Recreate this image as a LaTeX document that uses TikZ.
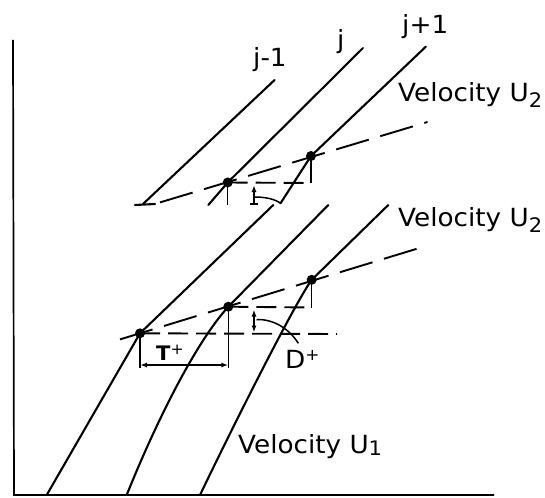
\documentclass[tikz,border=0pt]{standalone}
\usepackage{fontspec}
\setmainfont{DejaVu Sans}
\usetikzlibrary{arrows.meta}
\begin{document}
\begin{tikzpicture}[x=1pt,y=-1pt,
  ray/.style={line width=2.1pt, line cap=round},
  longdash/.style={line width=1.9pt, dash pattern=on 34pt off 12pt},
  shortdash/.style={line width=1.9pt, dash pattern=on 20pt off 8pt},
  axis/.style={line width=1.7pt},
  thinline/.style={line width=1.5pt},
  dot/.style={circle, fill, inner sep=0pt, minimum size=10pt},
  lbl/.style={font=\fontsize{25}{25}\selectfont, inner sep=0pt, anchor=base west, xscale=1.05},
  dimarrow/.style={line width=1.4pt, {Latex[length=7pt,width=5pt]}-{Latex[length=7pt,width=5pt]}},
  uparrow/.style={line width=1.4pt, -{Latex[length=7pt,width=5pt]}}
]
\useasboundingbox (0,0) rectangle (545,497);

% axes
\coordinate (ytop) at (13,40);
\coordinate (orig) at (14,495);
\coordinate (xend) at (494,495);
\draw[axis] (ytop) -- (orig) -- (xend);

% ---------- upper set ----------
\node[dot] (uj) at (227.7,182.5) {};
\node[dot] (uk) at (311,156) {};
\coordinate (uAtop) at (274.6,80);
\coordinate (uAbot) at (143,204);
\coordinate (uFl) at (135,205);
\coordinate (uFr) at (155,204);
\coordinate (uBtop) at (363,48);
\coordinate (uBbot) at (208.3,205);
\coordinate (uCtop) at (425.8,46.7);
\coordinate (uCbot) at (280.5,203.3);
\coordinate (uDs) at (160,202.4);
\coordinate (uDe) at (427.5,122);
\coordinate (uCorner) at (311,183);
\coordinate (uTick) at (227.7,205);
\coordinate (uArB) at (254,204);
\coordinate (uArT) at (254,185);
\coordinate (uArM) at (255,197);

\draw[ray] (uAbot) -- (uAtop);
\draw[ray] (uFl) -- (uFr);
\draw[ray] (uBbot) -- (uj.center) -- (uBtop);
\draw[ray] (uCbot) -- (uk.center) -- (uCtop);
\draw[longdash] (uDs) -- (uDe);
\draw[shortdash] (uj.center) -- (uCorner);
\draw[thinline] (uCorner) -- (uk.center);
\draw[thinline] (uj.center) -- (uTick);
\draw[uparrow] (uArB) -- (uArT);
\draw[thinline] (250,204) -- (258,204);
\draw[thinline] (uArM) .. controls (265,197) and (275,199) .. (uCbot);

% ---------- lower set ----------
\node[dot] (la) at (140,333.3) {};
\node[dot] (lb) at (228.3,306.7) {};
\node[dot] (lc) at (311.7,279.8) {};
\coordinate (lAtop) at (273.3,205);
\coordinate (lAbot) at (46.7,495);
\coordinate (lBtop) at (328.3,205);
\coordinate (lBbot) at (126.7,495);
\coordinate (lCtop) at (388.3,205);
\coordinate (lCbot) at (200,495);
\coordinate (lDs) at (120,339.4);
\coordinate (lDe) at (427.5,245.5);
\coordinate (lHe) at (337,334);
\coordinate (lCorner) at (311.7,307.5);
\coordinate (laDown) at (140,368);
\coordinate (lbDown) at (228.3,368);
\coordinate (dimL) at (140,365);
\coordinate (dimR) at (228.3,365);
\coordinate (lArT) at (254,309.5);
\coordinate (lArB) at (254,332.5);
\coordinate (lArcS) at (256.5,319.5);
\coordinate (lArcE) at (298.3,343.3);

\draw[ray] (lAbot) -- (la.center) -- (lAtop);
\draw[ray] (lBbot) .. controls (150.7,435) and (192,346.7) .. (lb.center) -- (lBtop);
\draw[ray] (lCbot) .. controls (233.6,425) and (294.2,304.3) .. (lc.center) -- (lCtop);
\draw[longdash] (lDs) -- (lDe);
\draw[shortdash] (la.center) -- (lHe);
\draw[shortdash] (lb.center) -- (lCorner);
\draw[thinline] (lCorner) -- (lc.center);
\draw[thinline] (la.center) -- (laDown);
\draw[thinline] (lb.center) -- (lbDown);
\draw[dimarrow] (dimL) -- (dimR);
\draw[dimarrow] (lArT) -- (lArB);
\draw[thinline] (lArcS) .. controls (275,319) and (290,330) .. (lArcE);

% ---------- labels ----------
\node[lbl] (tj1) at (253,66.5) {j-1};
\node[lbl] (tj) at (337,48.3) {j};
\node[lbl] (tj2) at (402,33.3) {j+1};
\node[lbl] (tv1) at (398,101.7) {Velocity U\raisebox{-6pt}{\fontsize{20}{20}\selectfont 2}};
\node[lbl] (tv2) at (398,226) {Velocity U\raisebox{-6pt}{\fontsize{20}{20}\selectfont 2}};
\node[lbl] (tv3) at (238,453) {Velocity U\raisebox{-2pt}{\fontsize{20}{20}\selectfont 1}};
\node[lbl] (tD) at (285,368.3) {D\raisebox{8pt}{\fontsize{16}{16}\selectfont +}};
\node[lbl, font=\fontsize{20}{20}\selectfont\bfseries] (tT) at (156,360) {T\raisebox{6pt}{\fontsize{15}{15}\selectfont\mdseries +}};
\end{tikzpicture}
\end{document}
